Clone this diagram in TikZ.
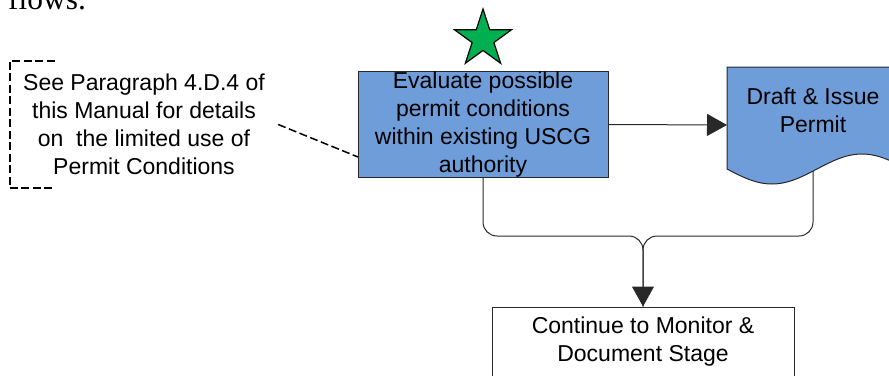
\documentclass[tikz,border=0pt]{standalone}
\usepackage{fontspec}
\setmainfont{Liberation Sans}
\newfontfamily\bodyserif{Liberation Serif}
\usetikzlibrary{arrows.meta,shapes.geometric}
\definecolor{stepblue}{RGB}{111,157,217}
\definecolor{stargreen}{RGB}{0,176,80}
\definecolor{edge}{RGB}{40,40,40}
\begin{document}
\begin{tikzpicture}[x=1pt,y=-1pt,
  every node/.style={font=\fontsize{23}{28}\selectfont, align=center, inner sep=0pt},
  stepbox/.style={draw=edge, line width=1pt},
  conn/.style={draw=edge, line width=1pt},
  bigtip/.style={-{Triangle[length=20pt,width=22pt]}},
  notelink/.style={draw=black, line width=1.5pt, dash pattern=on 8pt off 3.5pt},
]
\useasboundingbox (0,0) rectangle (889,375);

% running text above the chart
\node[anchor=base west, font=\bodyserif\fontsize{31.5}{36}\selectfont] (flows) at (8,9.5) {flows.};

% side note with its dashed bracket
\node[minimum width=268pt, minimum height=127pt] (note) at (144,124.5)
  {See Paragraph 4.D.4 of\\this Manual for details\\on\ \ the limited use of\\Permit Conditions};
\draw[notelink] ([xshift=45pt]note.north west) -- (note.north west)
  -- (note.south west) -- ([xshift=45pt]note.south west);

% process steps
\node[stepbox, fill=stepblue, minimum width=250pt, minimum height=104.5pt] (eval) at (483,124.5)
  {Evaluate possible\\permit conditions\\within existing USCG\\authority};
\node[star, star points=5, star point ratio=2.618, minimum size=60pt,
      fill=stargreen, draw=black, line width=1.2pt] (award) at (483,39) {};

% document shape with a wavy lower edge
\draw[stepbox, fill=stepblue] (727,169) -- (727,67) -- (907,67) -- (907,169)
  -- plot[domain=907:727, samples=90] (\x, {169+15*sin(2*(\x-727))}) -- cycle;
\node (draft) at (813,110.7) {Draft \& Issue\\Permit};
\coordinate (draftin) at (727,125);
\coordinate (draftout) at (813,171);

\node[stepbox, fill=white, minimum width=302pt, minimum height=70pt] (final) at (643,342)
  {Continue to Monitor \&\\Document Stage};

% connectors
\coordinate (noteend) at (358,157);
\draw[notelink] (note.east) -- (noteend);
\draw[conn, bigtip] (eval.east) -- (draftin);
\coordinate (merge) at (643,236);
\draw[conn, rounded corners=14pt] (draftout) |- (merge) -- (final.north);
\draw[conn, rounded corners=14pt, bigtip] (eval.south) |- (merge) -- (final.north);
\end{tikzpicture}
\end{document}
